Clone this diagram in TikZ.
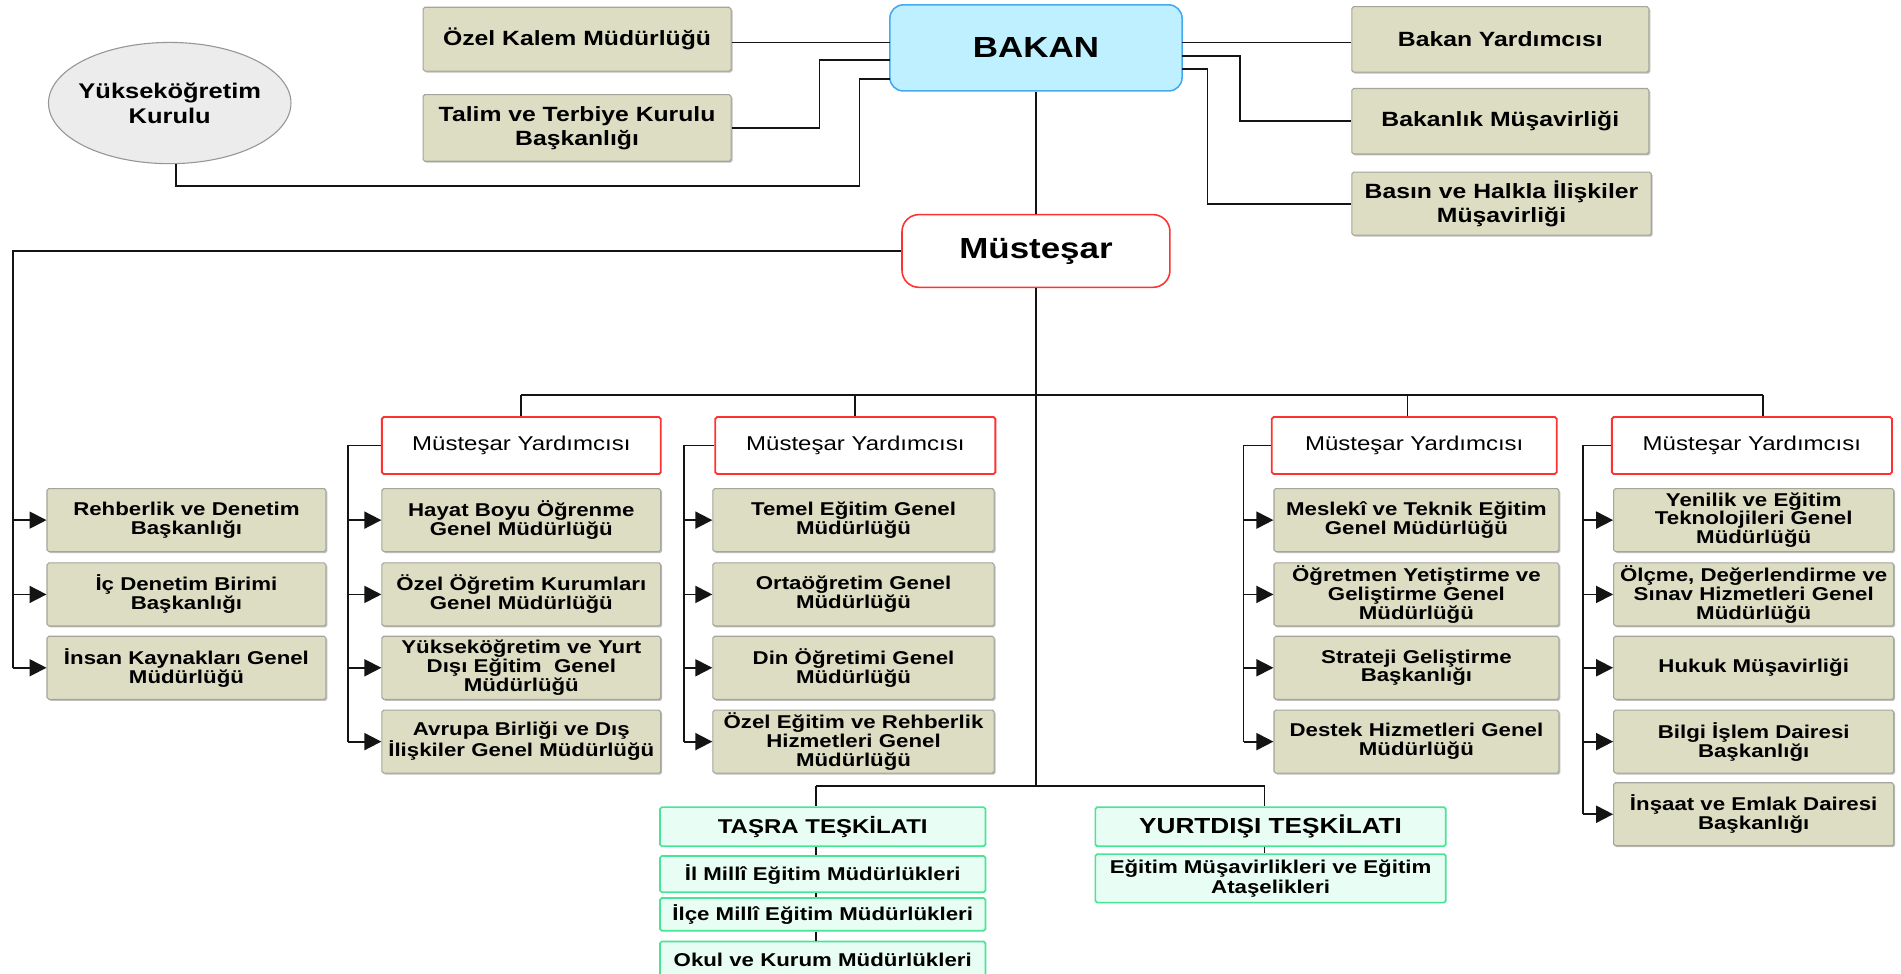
\documentclass[tikz,border=0pt]{standalone}
\usepackage{fontspec}
\setmainfont{Liberation Sans}[FakeStretch=1.2]
\usetikzlibrary{arrows.meta,shapes.geometric,shadows}
\definecolor{tanfill}{RGB}{221,221,195}
\definecolor{tanline}{RGB}{165,165,155}
\definecolor{bakfill}{RGB}{190,240,255}
\definecolor{bakline}{RGB}{70,170,240}
\definecolor{redline}{RGB}{255,50,50}
\definecolor{grnline}{RGB}{70,230,150}
\definecolor{grnfill}{RGB}{232,253,243}
\definecolor{yokfill}{RGB}{236,236,236}
\definecolor{yokline}{RGB}{150,150,150}
\definecolor{linec}{RGB}{20,20,20}
\tikzset{
  sz/.style 2 args={minimum width=#1pt,minimum height=#2pt},
  base/.style={align=center,inner sep=0pt,text=black},
  tanbox/.style={base,draw=tanline,fill=tanfill,line width=0.9pt,rounded corners=1.5pt,
    drop shadow={shadow xshift=1.2pt,shadow yshift=-1.2pt,opacity=0.25,fill=black},
    font=\fontsize{15.3}{15.6}\selectfont\bfseries},
  tantop/.style={tanbox,font=\fontsize{17}{20}\selectfont\bfseries},
  yokst/.style={base,ellipse,draw=yokline,fill=yokfill,line width=0.9pt,inner xsep=-8pt,
    minimum width=200pt,minimum height=100pt,font=\fontsize{17.5}{20.5}\selectfont\bfseries},
  bakst/.style={base,draw=bakline,fill=bakfill,line width=1.3pt,rounded corners=11pt,
    font=\fontsize{24}{26}\selectfont\bfseries},
  musst/.style={base,draw=redline,fill=white,line width=1.3pt,rounded corners=14pt,
    font=\fontsize{24}{26}\selectfont\bfseries},
  myst/.style={base,draw=redline,fill=white,line width=1.5pt,rounded corners=1.5pt,
    font=\fontsize{16.5}{18}\selectfont},
  grn/.style={base,draw=grnline,fill=grnfill,line width=1.4pt,rounded corners=1.5pt,
    font=\fontsize{15.3}{16.5}\selectfont\bfseries},
  ln/.style={draw=linec,line width=1.5pt},
  arr/.style={ln,-{Triangle[length=14pt,width=14pt]}},
}
\begin{document}
\begin{tikzpicture}[x=1pt,y=1pt]
\useasboundingbox (0,0) rectangle (1568,-803);
\clip (0,0) rectangle (1568,-803);
\fill[white] (0,0) rectangle (1568,-803);

% ---- top level ----
\node[tantop,sz={254}{52.6}] (ozel) at (476,-32.3) {Özel Kalem Müdürlüğü};
\node[tantop,sz={254}{55}] (talim) at (476,-105.5) {Talim ve Terbiye Kurulu\\Başkanlığı};
\node[yokst] (yok) at (140,-85) {Yükseköğretim\\Kurulu};
\node[bakst,sz={241}{71}] (bakan) at (854.5,-39.5) {BAKAN};
\node[tantop,sz={245}{54}] (by) at (1237.5,-32.5) {Bakan Yardımcısı};
\node[tantop,sz={245}{54}] (bm) at (1237.5,-100) {Bakanlık Müşavirliği};
\node[tantop,sz={247}{52}] (basin) at (1238.5,-168) {Basın ve Halkla İlişkiler\\Müşavirliği};
\node[musst,sz={221}{60}] (mus) at (854.5,-207) {Müsteşar};

% ---- Müsteşar Yardımcıları ----
\node[myst,sz={230}{47}] (my1) at (430,-367.5) {Müsteşar Yardımcısı};
\node[myst,sz={231}{47}] (my2) at (705.5,-367.5) {Müsteşar Yardımcısı};
\node[myst,sz={235}{47}] (my3) at (1166.5,-367.5) {Müsteşar Yardımcısı};
\node[myst,sz={231}{47}] (my4) at (1445,-367.5) {Müsteşar Yardımcısı};

% ---- left column ----
\node[tanbox,sz={230}{52}] (reh) at (153.8,-429) {Rehberlik ve Denetim\\Başkanlığı};
\node[tanbox,sz={230}{52}] (icd) at (153.8,-490.3) {İç Denetim Birimi\\Başkanlığı};
\node[tanbox,sz={230}{52}] (ink) at (153.8,-550.8) {İnsan Kaynakları Genel\\Müdürlüğü};

% ---- column 1 ----
\node[tanbox,sz={230}{52}] (hay) at (430,-429) {Hayat Boyu Öğrenme\\Genel Müdürlüğü};
\node[tanbox,sz={230}{52}] (ozo) at (430,-490.3) {Özel Öğretim Kurumları\\Genel Müdürlüğü};
\node[tanbox,sz={230}{52}] (yuk) at (430,-550.8) {Yükseköğretim ve Yurt\\Dışı Eğitim\ \ Genel\\Müdürlüğü};
\node[tanbox,sz={230}{52}] (avr) at (430,-611.7) {Avrupa Birliği ve Dış\\İlişkiler Genel Müdürlüğü};

% ---- column 2 ----
\node[tanbox,sz={232}{52}] (tem) at (704,-429) {Temel Eğitim Genel\\Müdürlüğü};
\node[tanbox,sz={232}{52}] (ort) at (704,-490.3) {Ortaöğretim Genel\\Müdürlüğü};
\node[tanbox,sz={232}{52}] (din) at (704,-550.8) {Din Öğretimi Genel\\Müdürlüğü};
\node[tanbox,sz={232}{52}] (oze) at (704,-611.7) {Özel Eğitim ve Rehberlik\\Hizmetleri Genel\\Müdürlüğü};

% ---- column 3 ----
\node[tanbox,sz={235}{52}] (mes) at (1168.3,-429) {Meslekî ve Teknik Eğitim\\Genel Müdürlüğü};
\node[tanbox,sz={235}{52}] (ogr) at (1168.3,-490.3) {Öğretmen Yetiştirme ve\\Geliştirme Genel\\Müdürlüğü};
\node[tanbox,sz={235}{52}] (str) at (1168.3,-550.8) {Strateji Geliştirme\\Başkanlığı};
\node[tanbox,sz={235}{52}] (des) at (1168.3,-611.7) {Destek Hizmetleri Genel\\Müdürlüğü};

% ---- column 4 ----
\node[tanbox,sz={231}{52}] (yen) at (1446.5,-429) {Yenilik ve Eğitim\\Teknolojileri Genel\\Müdürlüğü};
\node[tanbox,sz={231}{52}] (olc) at (1446.5,-490.3) {Ölçme, Değerlendirme ve\\Sınav Hizmetleri Genel\\Müdürlüğü};
\node[tanbox,sz={231}{52}] (huk) at (1446.5,-550.8) {Hukuk Müşavirliği};
\node[tanbox,sz={231}{52}] (bil) at (1446.5,-611.7) {Bilgi İşlem Dairesi\\Başkanlığı};
\node[tanbox,sz={231}{52}] (ine) at (1446.5,-671.6) {İnşaat ve Emlak Dairesi\\Başkanlığı};

% ---- bottom ----
\node[grn,sz={268.4}{32.3},font=\fontsize{16.5}{18}\selectfont\bfseries] (tas) at (678.6,-681.9) {TAŞRA TEŞKİLATI};
\node[grn,sz={268.4}{30}] (il) at (678.6,-721) {İl Millî Eğitim Müdürlükleri};
\node[grn,sz={268.4}{27}] (ilc) at (678.6,-754.2) {İlçe Millî Eğitim Müdürlükleri};
\node[grn,sz={268.4}{30}] (okul) at (678.6,-791.5) {Okul ve Kurum Müdürlükleri};
\node[grn,sz={289}{32.3},font=\fontsize{18}{19}\selectfont\bfseries] (yur) at (1048,-681.9) {YURTDIŞI TEŞKİLATI};
\node[grn,sz={289}{40}] (ems) at (1048,-724.5) {Eğitim Müşavirlikleri ve Eğitim\\Ataşelikleri};

% ---- helper coordinates ----
\coordinate (bw1) at (734,-35);
\coordinate (bw2) at (734,-49.5);
\coordinate (bw3) at (734,-65);
\coordinate (be1) at (975,-35);
\coordinate (be2) at (975,-46);
\coordinate (be3) at (975,-57);
\coordinate (k1) at (676,0);
\coordinate (k2) at (709,-153.5);
\coordinate (k3) at (1023,0);
\coordinate (k4) at (996,0);
\coordinate (t0) at (11,0);
\coordinate (t1) at (287,0);
\coordinate (t2) at (564,0);
\coordinate (t3) at (1025.7,0);
\coordinate (t4) at (1305.7,0);
\coordinate (cj) at (854.5,-648);
\coordinate (b1) at (430,-326);
\coordinate (b2) at (705.5,-326);
\coordinate (b3) at (1161,-326);
\coordinate (b4) at (1454,-326);
\coordinate (tj) at (673,-648);
\coordinate (yj) at (1043,-648);

% ---- connectors: BAKAN ----
\draw[ln] (ozel.east |- bw1) -- (bw1);
\draw[ln] (talim.east) -| (k1 |- bw2) -- (bw2);
\draw[ln] ([xshift=5pt]yok.south) |- (k2) |- (bw3);
\draw[ln] (be1) -- (by.west |- be1);
\draw[ln] (be2) -| (k3 |- bm.west) -- (bm.west);
\draw[ln] (be3) -| (k4 |- basin.west) -- (basin.west);
\draw[ln] (bakan.south) -- (mus.north);

% ---- Müsteşar ----
\draw[ln] (mus.west) -| (t0 |- ink.west);
\draw[arr] (t0 |- reh.west) -- (reh.west);
\draw[arr] (t0 |- icd.west) -- (icd.west);
\draw[arr] (t0 |- ink.west) -- (ink.west);
\draw[ln] (mus.south) -- (cj);
\draw[ln] (b1) -- (b4);
\draw[ln] (b1) -- (my1.north);
\draw[ln] (b2) -- (my2.north);
\draw[ln] (b3) -- (b3 |- my3.north);
\draw[ln] (b4) -- (b4 |- my4.north);

% ---- MY1 ----
\draw[ln] (my1.west) -| (t1 |- avr.west);
\draw[arr] (t1 |- hay.west) -- (hay.west);
\draw[arr] (t1 |- ozo.west) -- (ozo.west);
\draw[arr] (t1 |- yuk.west) -- (yuk.west);
\draw[arr] (t1 |- avr.west) -- (avr.west);
% ---- MY2 ----
\draw[ln] (my2.west) -| (t2 |- oze.west);
\draw[arr] (t2 |- tem.west) -- (tem.west);
\draw[arr] (t2 |- ort.west) -- (ort.west);
\draw[arr] (t2 |- din.west) -- (din.west);
\draw[arr] (t2 |- oze.west) -- (oze.west);
% ---- MY3 ----
\draw[ln] (my3.west) -| (t3 |- des.west);
\draw[arr] (t3 |- mes.west) -- (mes.west);
\draw[arr] (t3 |- ogr.west) -- (ogr.west);
\draw[arr] (t3 |- str.west) -- (str.west);
\draw[arr] (t3 |- des.west) -- (des.west);
% ---- MY4 ----
\draw[ln] (my4.west) -| (t4 |- ine.west);
\draw[arr] (t4 |- yen.west) -- (yen.west);
\draw[arr] (t4 |- olc.west) -- (olc.west);
\draw[arr] (t4 |- huk.west) -- (huk.west);
\draw[arr] (t4 |- bil.west) -- (bil.west);
\draw[arr] (t4 |- ine.west) -- (ine.west);

% ---- bottom ----
\draw[ln] (tj) -- (yj);
\draw[ln] (tj) -- (tj |- tas.north);
\draw[ln] (yj) -- (yj |- yur.north);
\draw[ln] (tj |- tas.south) -- (tj |- il.north);
\draw[ln] (tj |- il.south) -- (tj |- ilc.north);
\draw[ln] (tj |- ilc.south) -- (tj |- okul.north);
\draw[ln] (yj |- yur.south) -- (yj |- ems.north);
\end{tikzpicture}
\end{document}
